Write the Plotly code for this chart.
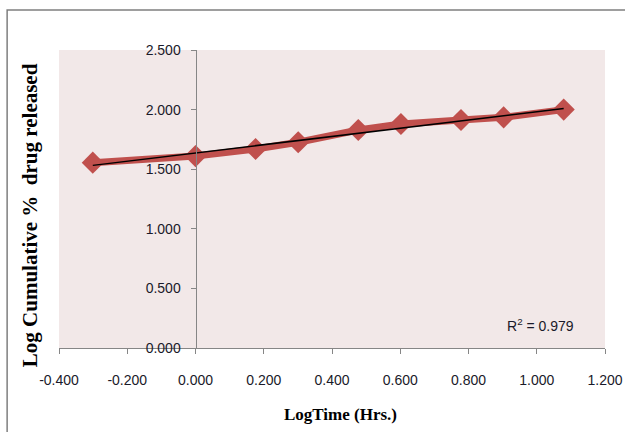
import numpy as np
import plotly.graph_objects as go

# Data
log_time = [-0.301, 0.000, 0.176, 0.301, 0.477, 0.602, 0.778, 0.903, 1.079]
log_cum_release = [1.555, 1.610, 1.670, 1.726, 1.829, 1.879, 1.913, 1.935, 2.000]

x_tick_vals = [-0.4, -0.2, 0.0, 0.2, 0.4, 0.6, 0.8, 1.0, 1.2]
x_tick_text = ["-0.400", "-0.200", "0.000", "0.200", "0.400", "0.600", "0.800", "1.000", "1.200"]
y_tick_vals = [0.0, 0.5, 1.0, 1.5, 2.0, 2.5]
y_tick_text = ["0.000", "0.500", "1.000", "1.500", "2.000", "2.500"]

r2_label = "R<sup>2</sup> = 0.979"
x_title = "LogTime (Hrs.)"
y_title = "Log Cumulative %  drug released"

# linear trendline fitted from the data
slope, intercept = np.polyfit(log_time, log_cum_release, 1)
trend_x = [min(log_time), max(log_time)]
trend_y = [slope * v + intercept for v in trend_x]

x_range = [-0.4, 1.2]
y_axis_pos = (0.0 - x_range[0]) / (x_range[1] - x_range[0])

fig = go.Figure()
fig.add_trace(go.Scatter(
    x=log_time, y=log_cum_release, mode="lines+markers",
    line=dict(color="#C0504D", width=7),
    marker=dict(symbol="diamond", size=17, color="#C0504D"),
    showlegend=False, hoverinfo="skip",
))
fig.add_trace(go.Scatter(
    x=trend_x, y=trend_y, mode="lines",
    line=dict(color="#000000", width=1.5),
    showlegend=False, hoverinfo="skip",
))

tick_font = dict(family="Liberation Sans, Arial, sans-serif", size=14, color="#1a1a2a")

fig.update_layout(
    width=625, height=432,
    margin=dict(l=59, r=20, t=50, b=84),
    paper_bgcolor="#FFFFFF",
    plot_bgcolor="#F2E8E8",
    xaxis=dict(
        range=x_range, tickvals=x_tick_vals, ticktext=x_tick_text,
        showgrid=False, zeroline=False, showline=True, linecolor="#868686", linewidth=1,
        ticks="outside", ticklen=5, tickcolor="#868686",
        tickfont=tick_font, ticklabelstandoff=14, automargin=False,
    ),
    yaxis=dict(
        range=[0, 2.5], tickvals=y_tick_vals, ticktext=y_tick_text,
        anchor="free", position=y_axis_pos,
        showgrid=False, zeroline=False, showline=True, linecolor="#868686", linewidth=1,
        ticks="outside", ticklen=5, tickcolor="#868686",
        tickfont=tick_font, ticklabelstandoff=7, automargin=False,
    ),
    annotations=[
        dict(text=r2_label, xref="x", yref="y", x=1.012, y=0.19, showarrow=False,
             font=dict(family="Liberation Sans, Arial, sans-serif", size=14, color="#1a1a2a")),
        dict(text="<b>" + x_title + "</b>", xref="paper", yref="paper", x=0.515, y=-0.222,
             showarrow=False, yanchor="middle",
             font=dict(family="Liberation Serif, Times New Roman, serif", size=17, color="#000000")),
        dict(text="<b>" + y_title + "</b>", xref="paper", yref="paper", x=-0.053, y=0.446,
             showarrow=False, textangle=-90, xanchor="center", yanchor="middle",
             font=dict(family="Liberation Serif, Times New Roman, serif", size=21, color="#000000")),
    ],
    shapes=[
        dict(type="rect", xref="paper", yref="paper",
             x0=-0.095, x1=1.2, y0=-0.5, y1=1.134,
             line=dict(color="#7f7f7f", width=1.5), fillcolor="rgba(0,0,0,0)", layer="below"),
    ],
)

fig.write_html(
    "out.html",
    config={"displayModeBar": False},
    post_script="document.body.style.margin='0';document.body.style.overflow='hidden';",
)
